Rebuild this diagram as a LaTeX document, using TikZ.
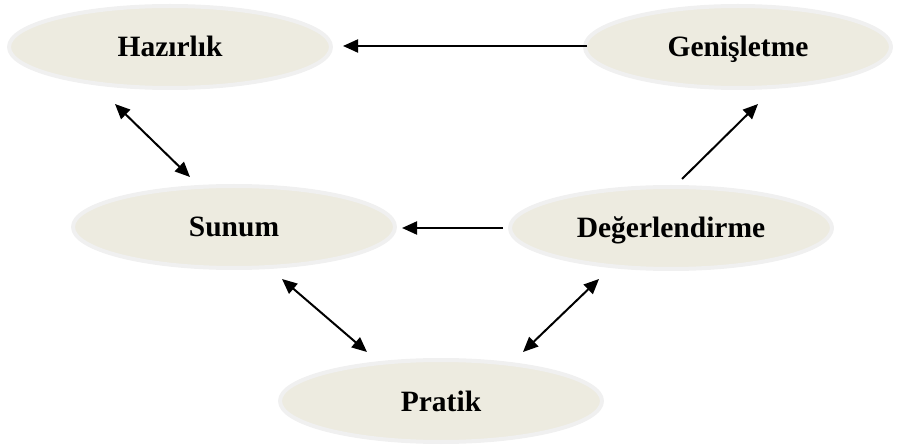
\documentclass[tikz,border=0pt]{standalone}
\usepackage{fontspec}
\setmainfont{Liberation Serif}
\usetikzlibrary{shapes.geometric,arrows.meta}
\definecolor{ovalfill}{RGB}{237,235,224}
\definecolor{ovalline}{RGB}{240,240,240}
\tikzset{
  oval/.style={ellipse, fill=ovalfill, draw=ovalline, line width=4pt,
    minimum width=322pt, minimum height=82pt, inner sep=0pt, outer sep=0pt,
    text height=20pt, text depth=0pt,
    font=\fontsize{29.5}{33}\selectfont\bfseries},
  conn/.style={line width=2pt, draw=black},
  tipa/.style={-{Triangle[length=15pt,width=13pt]}},
  tipb/.style={{Triangle[length=15pt,width=13pt]}-{Triangle[length=15pt,width=13pt]}}
}
\begin{document}
\begin{tikzpicture}[x=1pt,y=-1pt]
\useasboundingbox (0,0) rectangle (897,446);
\node[oval] (haz) at (170,47) {Hazırlık};
\node[oval, minimum width=306pt] (gen) at (738,47) {Genişletme};
\node[oval] (sun) at (234,227) {Sunum};
\node[oval] (deg) at (671,228) {Değerlendirme};
\node[oval] (pra) at (441,401) {Pratik};
\coordinate (t1) at (587,46);
\coordinate (t2) at (343,46);
\coordinate (m1) at (503,228);
\coordinate (m2) at (402,228);
\coordinate (hs1) at (115,104);
\coordinate (hs2) at (190,177);
\coordinate (dg1) at (682,179);
\coordinate (dg2) at (758,104);
\coordinate (sp1) at (282,279);
\coordinate (sp2) at (367,352);
\coordinate (pd1) at (523,352);
\coordinate (pd2) at (599,279);
\draw[conn, tipa] (t1) -- (t2);
\draw[conn, tipa] (m1) -- (m2);
\draw[conn, tipb] (hs1) -- (hs2);
\draw[conn, tipa] (dg1) -- (dg2);
\draw[conn, tipb] (sp1) -- (sp2);
\draw[conn, tipb] (pd1) -- (pd2);
\end{tikzpicture}
\end{document}
